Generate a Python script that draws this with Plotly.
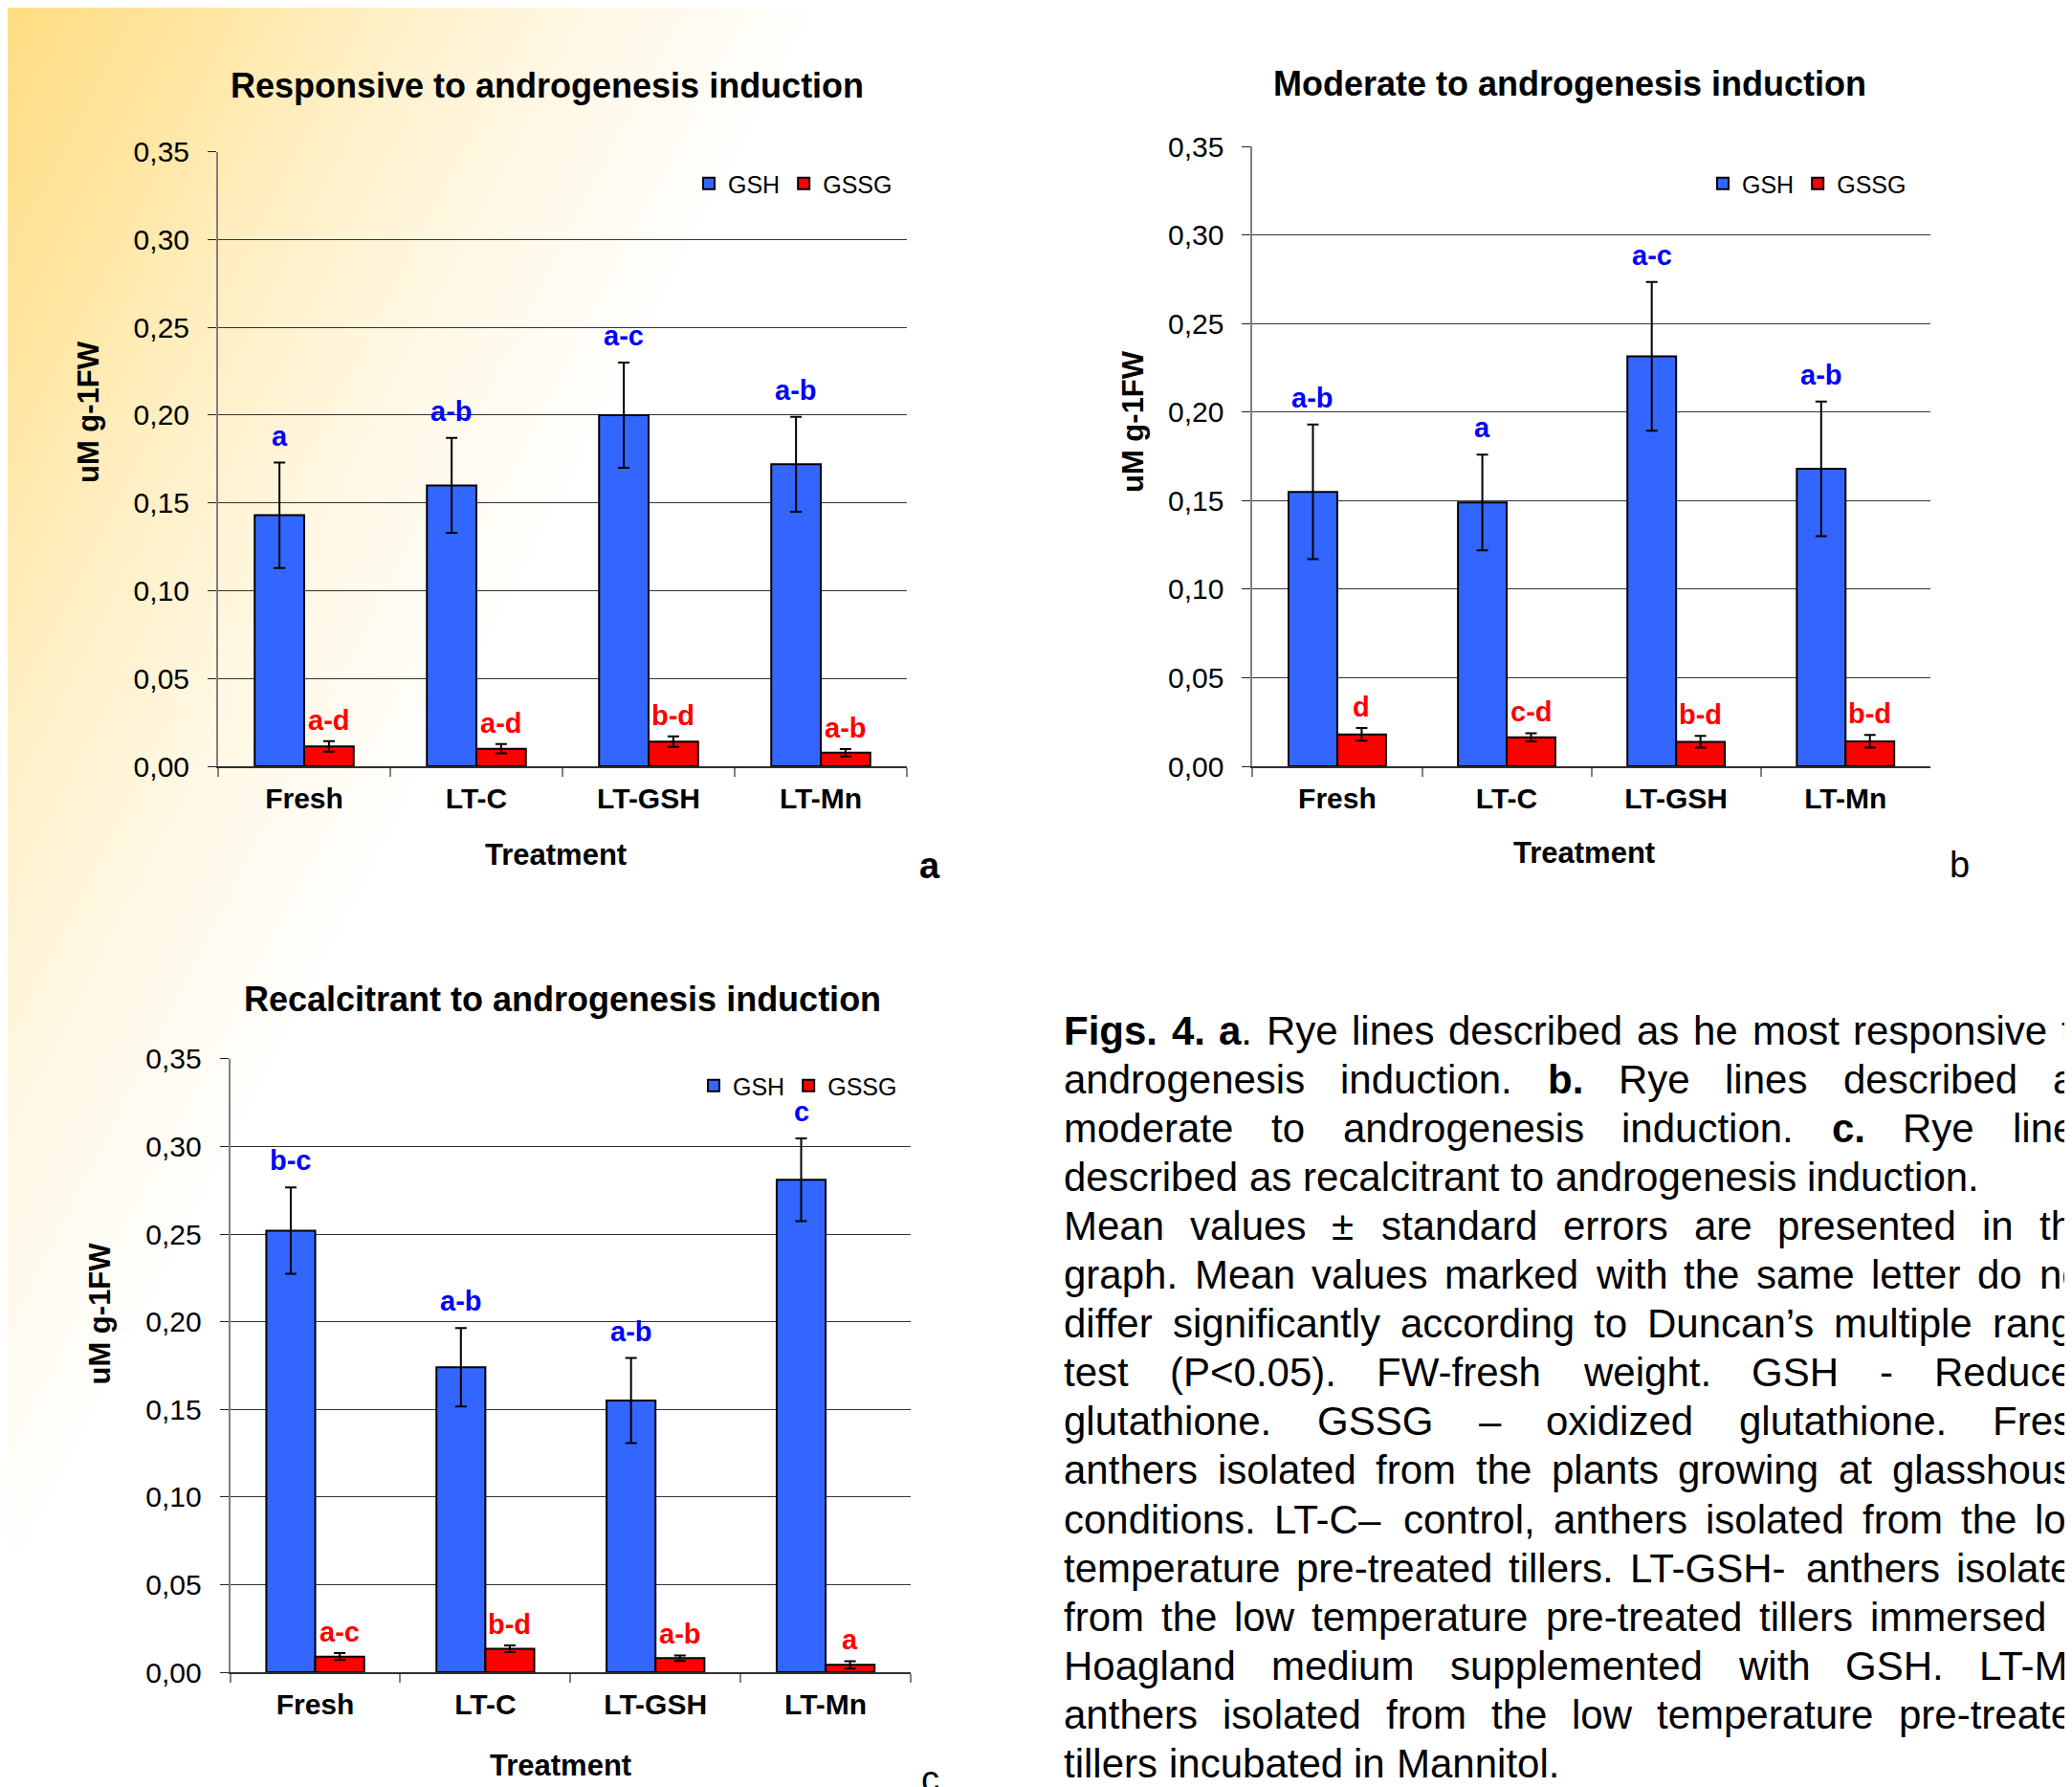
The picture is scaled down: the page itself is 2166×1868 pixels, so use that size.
import base64
import re
import plotly.graph_objects as go

W, H = 2166, 1868
# the page body has a default 8px margin; shift figure content to compensate
OFF = 8
FONT = "Liberation Sans, Arial, sans-serif"

# ---------------- data ----------------
categories = ["Fresh", "LT-C", "LT-GSH", "LT-Mn"]
series_names = ["GSH", "GSSG"]

# a. Responsive
gsh_a = [0.143, 0.160, 0.200, 0.172]
gsh_a_err = [0.030, 0.027, 0.030, 0.027]
gssg_a = [0.0113, 0.0100, 0.0140, 0.0077]
gssg_a_err = [0.0030, 0.0027, 0.0030, 0.0021]
gsh_a_letters = ["a", "a-b", "a-c", "a-b"]
gssg_a_letters = ["a-d", "a-d", "b-d", "a-b"]

# b. Moderate
gsh_b = [0.155, 0.149, 0.2315, 0.168]
gsh_b_err = [0.038, 0.027, 0.042, 0.038]
gssg_b = [0.0180, 0.0164, 0.0138, 0.0141]
gssg_b_err = [0.0036, 0.0023, 0.0033, 0.0036]
gsh_b_letters = ["a-b", "a", "a-c", "a-b"]
gssg_b_letters = ["d", "c-d", "b-d", "b-d"]

# c. Recalcitrant
gsh_c = [0.252, 0.174, 0.155, 0.281]
gsh_c_err = [0.0246, 0.0224, 0.0243, 0.0236]
gssg_c = [0.0089, 0.0134, 0.0080, 0.0042]
gssg_c_err = [0.0020, 0.0019, 0.0016, 0.0021]
gsh_c_letters = ["b-c", "a-b", "a-b", "c"]
gssg_c_letters = ["a-c", "b-d", "a-b", "a"]

panel_titles = ["Responsive to androgenesis induction",
                "Moderate to androgenesis induction",
                "Recalcitrant to androgenesis induction"]
y_title = "uM g-1FW"
x_title = "Treatment"
y_tick_values = [0, 0.05, 0.10, 0.15, 0.20, 0.25, 0.30, 0.35]

caption_lines = [
    (["<b>Figs.</b>", "<b>4.</b>", "<b>a</b>.", "Rye", "lines", "described", "as", "he", "most", "responsive", "to"], True),
    (["androgenesis", "induction.", "<b>b.</b>", "Rye", "lines", "described", "as"], True),
    (["moderate", "to", "androgenesis", "induction.", "<b>c.</b>", "Rye", "lines"], True),
    (["described", "as", "recalcitrant", "to", "androgenesis", "induction."], False),
    (["Mean", "values", "±", "standard", "errors", "are", "presented", "in", "the"], True),
    (["graph.", "Mean", "values", "marked", "with", "the", "same", "letter", "do", "not"], True),
    (["differ", "significantly", "according", "to", "Duncan’s", "multiple", "range"], True),
    (["test", "(P&lt;0.05).", "FW-fresh", "weight.", "GSH", "-", "Reduced"], True),
    (["glutathione.", "GSSG", "–", "oxidized", "glutathione.", "Fresh"], True),
    (["anthers", "isolated", "from", "the", "plants", "growing", "at", "glasshouse"], True),
    (["conditions.", "LT-C–", "control,", "anthers", "isolated", "from", "the", "low"], True),
    (["temperature", "pre-treated", "tillers.", "LT-GSH-", "anthers", "isolated"], True),
    (["from", "the", "low", "temperature", "pre-treated", "tillers", "immersed", "in"], True),
    (["Hoagland", "medium", "supplemented", "with", "GSH.", "LT-Mn"], True),
    (["anthers", "isolated", "from", "the", "low", "temperature", "pre-treated"], True),
    (["tillers", "incubated", "in", "Mannitol."], False),
]

# ---------------- styles ----------------
BLUE = "#3366FF"
RED = "#FF0000"
BARGAP = 0.425


def px_x(x):
    return (x - OFF) / W


def px_y(y):
    return 1 - (y - OFF) / H


# background gradient (decoration), drawn in page pixel coordinates
grad_svg = (
    '<svg xmlns="http://www.w3.org/2000/svg" width="2166" height="1868" viewBox="8 8 2166 1868">'
    '<defs><linearGradient id="g" gradientUnits="userSpaceOnUse" x1="0" y1="0" x2="690" y2="353">'
    '<stop offset="0" stop-color="#FFDC80"/>'
    '<stop offset="0.26" stop-color="#FFE6A2"/>'
    '<stop offset="0.46" stop-color="#FFEFC4"/>'
    '<stop offset="0.69" stop-color="#FFF7E2"/>'
    '<stop offset="1" stop-color="#FFFFFF"/>'
    '</linearGradient></defs>'
    '<rect x="0" y="0" width="2200" height="1900" fill="url(#g)"/>'
    '<rect x="0" y="1621" width="16" height="300" fill="#FFFFFF"/></svg>'
)
grad_uri = "data:image/svg+xml;base64," + base64.b64encode(grad_svg.encode()).decode()

fig = go.Figure()

panels = [
    dict(gsh=gsh_a, gsh_err=gsh_a_err, gssg=gssg_a, gssg_err=gssg_a_err,
         gl=gsh_a_letters, rl=gssg_a_letters, xa="x", ya="y", leg="legend"),
    dict(gsh=gsh_b, gsh_err=gsh_b_err, gssg=gssg_b, gssg_err=gssg_b_err,
         gl=gsh_b_letters, rl=gssg_b_letters, xa="x2", ya="y2", leg="legend2"),
    dict(gsh=gsh_c, gsh_err=gsh_c_err, gssg=gssg_c, gssg_err=gssg_c_err,
         gl=gsh_c_letters, rl=gssg_c_letters, xa="x3", ya="y3", leg="legend3"),
]

annotations = []
off = (1 - BARGAP) / 4

for p in panels:
    for name, vals, errs, col in [("GSH", p["gsh"], p["gsh_err"], BLUE),
                                  ("GSSG", p["gssg"], p["gssg_err"], RED)]:
        fig.add_trace(go.Bar(
            x=categories, y=vals, name=name,
            marker=dict(color=col, line=dict(color="black", width=2)),
            error_y=dict(type="data", array=errs, visible=True, color="black",
                         thickness=2, width=6),
            xaxis=p["xa"], yaxis=p["ya"], legend=p["leg"],
        ))
    for i in range(len(categories)):
        annotations.append(dict(
            x=i - off, y=p["gsh"][i] + p["gsh_err"][i], xref=p["xa"], yref=p["ya"],
            text="<b>%s</b>" % p["gl"][i], showarrow=False, yanchor="middle", yshift=28,
            font=dict(family=FONT, size=29, color="#0000FF")))
        annotations.append(dict(
            x=i + off, y=p["gssg"][i] + p["gssg_err"][i], xref=p["xa"], yref=p["ya"],
            text="<b>%s</b>" % p["rl"][i], showarrow=False, yanchor="middle", yshift=22,
            font=dict(family=FONT, size=29, color="#FF0000")))

xaxis_style = dict(type="category", range=[-0.5, 3.5], showgrid=False, zeroline=False,
                   showline=True, linecolor="#303030", linewidth=1.5,
                   ticks="outside", tickson="boundaries", ticklen=9, tickwidth=1.5,
                   tickcolor="#808080", ticklabelstandoff=6, automargin=False,
                   tickfont=dict(family=FONT, size=30, color="black", weight="bold"),
                   fixedrange=True)
yaxis_style = dict(range=[0, 0.35], tickvals=y_tick_values, tickformat=".2f",
                   showgrid=True, gridcolor="#333333", gridwidth=1.2, zeroline=False,
                   showline=True, linecolor="#808080", linewidth=2,
                   ticks="outside", ticklen=9, tickwidth=1.2, tickcolor="#222222",
                   ticklabelstandoff=13, automargin=False,
                   tickfont=dict(family=FONT, size=30, color="black"), fixedrange=True)

# panel geometry (page pixels)
geo = [
    dict(x0=228, x1=948, y0=158.7, y1=801),
    dict(x0=1309.4, x1=2017.8, y0=153.3, y1=801),
    dict(x0=240.6, x1=952, y0=1106.9, y1=1748),
]
layout_axes = {}
for k, g in enumerate(geo):
    sx = "" if k == 0 else str(k + 1)
    layout_axes["xaxis" + sx] = dict(xaxis_style, domain=[px_x(g["x0"]), px_x(g["x1"])],
                                     anchor="y" + sx)
    layout_axes["yaxis" + sx] = dict(yaxis_style, domain=[px_y(g["y1"]), px_y(g["y0"])],
                                     anchor="x" + sx)

legend_style = dict(orientation="h", xanchor="right", yanchor="middle",
                    bgcolor="rgba(0,0,0,0)", font=dict(family=FONT, size=25, color="black"),
                    itemclick=False, itemdoubleclick=False, traceorder="normal",
                    entrywidthmode="pixels")

# panel titles
title_pos = [(572, 89.7), (1640.5, 87.9), (588, 1044.8)]
for (tx, ty), t in zip(title_pos, panel_titles):
    annotations.append(dict(x=px_x(tx), y=px_y(ty), xref="paper", yref="paper",
                            text="<b>%s</b>" % t, showarrow=False,
                            xanchor="center", yanchor="middle",
                            font=dict(family=FONT, size=36, color="black")))
# y titles
for (tx, ty) in [(92, 431), (1185, 441), (104, 1373.5)]:
    annotations.append(dict(x=px_x(tx), y=px_y(ty), xref="paper", yref="paper",
                            text="<b>%s</b>" % y_title, showarrow=False, textangle=-90,
                            xanchor="center", yanchor="middle",
                            font=dict(family=FONT, size=31, color="black")))
# x titles
for (tx, ty) in [(581, 893), (1656, 891), (586, 1845)]:
    annotations.append(dict(x=px_x(tx), y=px_y(ty), xref="paper", yref="paper",
                            text="<b>%s</b>" % x_title, showarrow=False,
                            xanchor="center", yanchor="middle",
                            font=dict(family=FONT, size=31, color="black")))
# panel letters
for (tx, ty, t) in [(972, 905, "<b>a</b>"), (2048, 904, "b"), (972, 1860, "c")]:
    annotations.append(dict(x=px_x(tx), y=px_y(ty), xref="paper", yref="paper",
                            text=t, showarrow=False, xanchor="center", yanchor="middle",
                            font=dict(family=FONT, size=38, color="black")))

# ---------------- caption (justified) ----------------
REG = {" ": 278, "!": 278, "(": 333, ")": 333, ",": 278, "-": 333, ".": 278, "<": 584,
       "±": 584, "–": 556, "’": 222,
       "A": 667, "B": 667, "C": 722, "D": 722, "E": 667, "F": 611, "G": 778, "H": 722,
       "I": 278, "J": 500, "K": 667, "L": 556, "M": 833, "N": 722, "O": 778, "P": 667,
       "Q": 778, "R": 722, "S": 667, "T": 611, "U": 722, "V": 667, "W": 944, "X": 667,
       "Y": 667, "Z": 611,
       "a": 556, "b": 556, "c": 500, "d": 556, "e": 556, "f": 278, "g": 556, "h": 556,
       "i": 222, "j": 222, "k": 500, "l": 222, "m": 833, "n": 556, "o": 556, "p": 556,
       "q": 556, "r": 333, "s": 500, "t": 278, "u": 556, "v": 500, "w": 722, "x": 500,
       "y": 500, "z": 500}
for d in "0123456789":
    REG[d] = 556
BOLD = {" ": 278, ".": 278, "4": 556, "F": 611, "a": 556, "b": 611, "c": 556, "g": 611,
        "i": 278, "s": 556}

CAP_FS = 42
CAP_X0 = 1111
CAP_W = 1078
CAP_Y0 = 1077
CAP_DY = 51.1


def word_width(w):
    w = w.replace("&lt;", "<")
    total = 0
    for part in re.split(r"(<b>.*?</b>)", w):
        if part.startswith("<b>"):
            total += sum(BOLD.get(ch, 600) for ch in part[3:-4])
        else:
            total += sum(REG.get(ch, 556) for ch in part)
    return total / 1000 * CAP_FS


for li, (words, justify) in enumerate(caption_lines):
    widths = [word_width(w) for w in words]
    if justify and len(words) > 1:
        gap = (CAP_W - sum(widths)) / (len(words) - 1)
    else:
        gap = REG[" "] / 1000 * CAP_FS
    xcur = CAP_X0
    yc = CAP_Y0 + li * CAP_DY
    for w, ww in zip(words, widths):
        annotations.append(dict(x=px_x(xcur), y=px_y(yc), xref="paper", yref="paper",
                                text=w, showarrow=False, xanchor="left", yanchor="middle",
                                borderpad=0,
                                font=dict(family=FONT, size=CAP_FS, color="black")))
        xcur += ww + gap

fig.update_layout(
    width=W, height=H, autosize=False,
    margin=dict(l=0, r=0, t=0, b=0, pad=0, autoexpand=False),
    paper_bgcolor="white", plot_bgcolor="white",
    separators=",.",
    barmode="group", bargap=BARGAP, bargroupgap=0,
    font=dict(family=FONT, color="black"),
    legend=dict(legend_style, x=px_x(938), y=px_y(192)),
    legend2=dict(legend_style, x=px_x(1998), y=px_y(192)),
    legend3=dict(legend_style, x=px_x(943), y=px_y(1135)),
    annotations=annotations,
    images=[dict(source=grad_uri, xref="paper", yref="paper", x=0, y=1, sizex=1, sizey=1,
                 xanchor="left", yanchor="top", sizing="stretch", layer="below")],
    **layout_axes,
)

fig.write_html("out.html")
